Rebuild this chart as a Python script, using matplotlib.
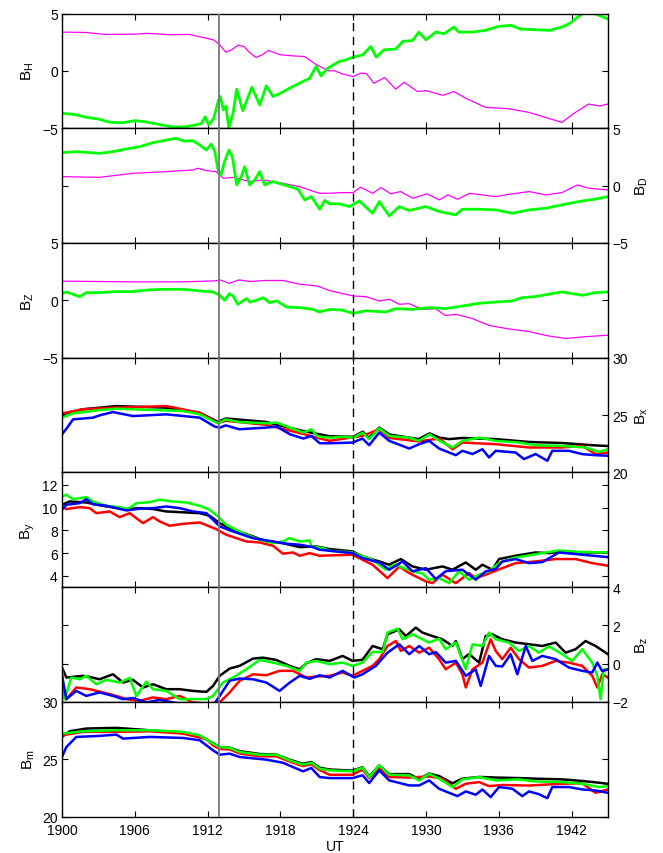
import matplotlib
matplotlib.use("Agg")
import matplotlib.pyplot as plt

plt.rcParams["font.family"] = ["Liberation Sans", "DejaVu Sans"]
plt.rcParams["mathtext.fontset"] = "custom"
plt.rcParams["mathtext.rm"] = "Liberation Sans"
plt.rcParams["mathtext.it"] = "Liberation Sans:italic"

# time in minutes after 19:00 UT
xticks = [0, 6, 12, 18, 24, 30, 36, 42]
xticklabels = ["1900", "1906", "1912", "1918", "1924", "1930", "1936", "1942"]
onset_t = 12.9
dash_t = 24.0

# ---- ground magnetometer (magenta / green) ----
bh_mag_t = [0, 2.0, 3.5, 6.0, 7.0, 9.0, 10.5, 11.5, 12.5, 13.0, 13.5, 14.0, 14.5, 15.0, 15.5, 16.0, 16.5, 17.0, 17.5, 18.0,
            19.0, 20.0, 20.5, 21.0, 22.0, 22.4, 23.1, 24.0, 24.6, 25.1, 25.7, 26.6, 27.5, 28.2, 29.3, 30.0, 31.4, 32.3,
            33.3, 34.9, 36.8, 38.5, 40.1, 41.2, 42.2, 43.4, 44.3, 45.0]
bh_mag_v = [3.38, 3.35, 3.18, 3.2, 3.27, 3.15, 3.18, 2.94, 2.7, 2.27, 1.63, 1.84, 2.24, 2.13, 1.55, 1.17, 1.4, 1.78, 1.6, 1.4,
            1.31, 1.25, 0.87, 0.52, 0.0, 0.03, -0.26, -0.5, -0.2, -0.23, -1.08, -0.58, -1.6, -0.99, -1.8, -1.72, -2.13, -1.8,
            -2.39, -3.18, -3.3, -3.62, -4.14, -4.49, -3.7, -2.89, -3.06, -2.89]
bh_grn_t = [0, 1.0, 2.0, 3.0, 4.0, 5.0, 6.0, 7.0, 8.0, 9.0, 10.0, 11.0, 11.5, 11.8, 12.1, 12.5, 12.9, 13.05, 13.3, 13.5,
            13.75, 14.1, 14.4, 14.9, 15.65, 16.3, 16.85, 17.4, 18.0, 18.75, 19.85, 20.4, 20.95, 21.35, 21.9, 22.85, 23.4,
            24.0, 24.8, 25.45, 25.9, 26.55, 27.5, 28.1, 28.9, 29.4, 30.0, 30.8, 31.5, 32.3, 32.7, 33.8, 34.9, 36.0, 37.0,
            37.8, 39.0, 40.2, 41.2, 41.8, 42.3, 42.9, 43.9, 45.0]
bh_grn_v = [-3.7, -3.79, -4.05, -4.2, -4.49, -4.52, -4.34, -4.46, -4.66, -4.87, -4.9, -4.72, -4.58, -4.0, -4.72, -4.14,
            -2.54, -2.24, -3.41, -3.06, -4.95, -3.7, -1.6, -3.47, -1.43, -2.97, -1.3, -2.24, -1.95, -1.52, -0.93, -0.65,
            0.38, -0.44, 0.23, 0.82, 0.96, 1.2, 1.4, 2.13, 1.2, 1.84, 1.9, 2.57, 2.65, 3.38, 2.71, 3.38, 3.24, 3.82, 3.38,
            3.38, 3.53, 3.88, 3.97, 3.64, 3.59, 3.53, 3.82, 4.11, 4.52, 4.99, 4.99, 4.52]

bd_mag_t = [0, 3.1, 5.85, 8.6, 10.8, 11.2, 11.9, 12.7, 13.3, 14.1, 15.5, 16.6, 18.2, 19.6, 21.2, 22.0, 23.1, 24.0, 24.6,
            25.6, 26.3, 27.1, 27.9, 28.9, 30.1, 31.1, 31.8, 32.6, 33.6, 34.6, 35.75, 37.1, 38.5, 39.9, 41.2, 42.5, 43.4, 45.0]
bd_mag_v = [0.78, 0.72, 1.07, 1.22, 1.36, 1.51, 1.3, 1.22, 0.64, 0.72, 0.35, 0.49, 0.2, -0.09, -0.67, -0.67, -0.61, -0.61,
            -0.14, -0.67, -0.17, -0.72, -0.52, -1.1, -0.72, -1.25, -0.81, -1.19, -0.67, -0.81, -0.96, -0.72, -0.52, -0.81,
            -0.61, 0.06, -0.23, -0.38]
bd_grn_t = [0, 1.2, 3.1, 4.2, 5.3, 6.4, 7.5, 8.6, 9.4, 10.1, 10.8, 11.35, 11.9, 12.3, 12.6, 12.86, 13.1, 13.4, 13.76, 14.04,
            14.4, 14.78, 15.05, 15.47, 15.88, 16.3, 16.7, 17.4, 18.1, 18.8, 19.45, 20.0, 20.55, 21.24, 21.65, 22.06, 22.85,
            23.7, 24.5, 25.6, 26.15, 26.97, 27.8, 28.6, 30.0, 31.1, 32.45, 33.0, 34.4, 35.75, 37.1, 38.5, 39.9, 41.2, 42.6,
            43.9, 45.0]
bd_grn_v = [2.87, 2.96, 2.81, 2.96, 3.19, 3.39, 3.74, 3.97, 4.12, 3.88, 3.91, 3.54, 3.1, 3.62, 2.96, 1.36, 0.93, 2.09, 3.1,
            2.52, 0.06, 0.78, 1.65, 0.06, 0.49, 1.22, 0.06, 0.35, 0.12, -0.09, -0.32, -1.25, -0.96, -2.06, -1.3, -1.59, -1.59,
            -1.83, -1.33, -2.41, -1.39, -2.64, -1.83, -2.17, -1.83, -2.26, -2.55, -2.06, -2.06, -2.12, -2.41, -2.12, -1.97,
            -1.68, -1.39, -1.19, -0.96]

bz_mag_t = [0, 5.85, 10.0, 12.7, 13.0, 13.8, 14.6, 15.5, 16.8, 18.2, 19.6, 21.0, 22.06, 24.0, 25.05, 26.15, 27.0, 27.8,
            28.6, 29.7, 30.8, 31.6, 32.5, 33.8, 35.2, 36.8, 38.5, 39.9, 41.5, 42.9, 45.0]
bz_mag_v = [1.67, 1.61, 1.61, 1.7, 1.78, 1.49, 1.78, 1.64, 1.73, 1.73, 1.4, 1.26, 0.85, 0.38, 0.32, -0.06, 0.09, -0.35,
            -0.29, -0.79, -0.73, -1.32, -1.23, -1.58, -2.19, -2.49, -2.72, -3.07, -3.33, -3.19, -3.04]
bz_grn_t = [0, 0.36, 1.46, 2.0, 3.1, 4.5, 5.85, 7.2, 8.6, 10.0, 11.35, 12.45, 13.0, 13.4, 13.8, 14.1, 14.5, 15.2, 15.5,
            16.0, 16.6, 17.1, 17.7, 18.5, 19.6, 20.7, 21.2, 22.06, 23.1, 24.0, 25.05, 26.7, 27.5, 28.9, 30.3, 31.6, 33.0,
            34.4, 35.75, 37.1, 37.9, 39.0, 40.1, 41.2, 42.9, 43.98, 45.0]
bz_grn_v = [0.58, 0.73, 0.32, 0.67, 0.67, 0.76, 0.76, 0.91, 0.96, 0.96, 0.82, 0.73, 0.44, 0.0, 0.58, 0.38, -0.35, 0.15,
            -0.15, 0.0, 0.23, -0.2, -0.05, -0.58, -0.64, -0.79, -1.02, -0.79, -0.85, -1.14, -0.91, -1.02, -0.73, -0.79,
            -0.64, -0.73, -0.5, -0.26, -0.15, -0.06, 0.23, 0.32, 0.53, 0.73, 0.44, 0.67, 0.73]

# ---- four spacecraft (black, red, green, blue) ----
bx_blk_t = [0, 1.7, 4.5, 8.6, 11.35, 12.86, 13.5, 16.8, 19.9, 22.06, 24.0, 24.8, 25.3, 26.15, 27.0, 29.4, 30.3, 31.1, 31.9,
            33.0, 35.75, 38.5, 41.2, 43.98, 45.0]
bx_blk_v = [25.06, 25.5, 25.78, 25.64, 25.2, 24.4, 24.7, 24.4, 23.6, 23.15, 23.1, 23.55, 23.0, 23.9, 23.3, 22.9, 23.4,
            23.03, 22.9, 23.0, 22.9, 22.65, 22.56, 22.35, 22.3]
bx_red_t = [0, 1.7, 4.5, 8.6, 11.35, 12.86, 13.5, 16.8, 19.9, 21.1, 22.06, 24.8, 26.15, 27.0, 29.4, 31.1, 32.2, 33.0, 35.75,
            38.5, 41.2, 42.9, 43.98, 45.0]
bx_red_v = [25.14, 25.5, 25.64, 25.78, 25.2, 24.3, 24.5, 24.15, 23.35, 23.0, 22.75, 23.2, 23.75, 23.0, 22.7, 22.95, 22.02,
            22.6, 22.46, 22.17, 22.17, 22.31, 21.59, 21.73]
bx_grn_t = [0, 0.9, 3.1, 4.5, 7.2, 10.0, 11.35, 12.45, 12.86, 13.5, 14.6, 16.8, 17.7, 18.8, 19.9, 20.55, 21.1, 22.06, 23.1,
            24.0, 24.8, 25.3, 26.15, 26.97, 28.6, 29.4, 30.3, 31.1, 32.2, 33.0, 34.4, 35.75, 37.7, 39.0, 41.2, 43.15, 44.25,
            45.0]
bx_grn_v = [24.77, 25.14, 25.43, 25.55, 25.45, 25.35, 25.06, 24.48, 24.28, 24.62, 24.39, 24.28, 24.34, 23.9, 23.47, 23.76,
            23.12, 23.03, 23.1, 23.03, 23.47, 22.89, 23.84, 23.18, 23.03, 22.75, 23.32, 22.75, 22.17, 22.75, 23.03, 22.75,
            22.6, 22.37, 22.31, 22.17, 21.79, 22.02]
bx_blu_t = [0, 0.36, 0.91, 2.55, 3.1, 4.2, 5.85, 8.6, 11.35, 12.6, 13.0, 13.5, 14.6, 16.8, 17.7, 18.8, 19.9, 20.55, 21.24,
            22.06, 23.95, 24.77, 25.32, 26.15, 26.97, 28.62, 29.44, 30.26, 31.08, 32.46, 33.0, 33.83, 34.65, 35.2, 35.75,
            37.39, 38.08, 39.04, 40.0, 40.41, 41.78, 42.88, 43.98, 45.0]
bx_blu_v = [23.32, 23.8, 24.62, 24.77, 24.97, 25.26, 24.91, 25.06, 24.77, 23.99, 23.9, 24.1, 23.76, 23.9, 23.99, 23.32,
            22.95, 23.18, 22.54, 22.54, 22.6, 22.95, 22.37, 23.47, 22.75, 22.08, 22.46, 22.75, 22.08, 21.5, 21.88, 21.6,
            22.02, 21.3, 21.88, 21.73, 21.16, 21.6, 21.01, 21.88, 21.88, 21.59, 21.5, 21.45]

by_blk_t = [0, 0.63, 2.0, 3.65, 5.3, 6.4, 7.5, 8.6, 10.25, 11.35, 12.17, 13.0, 14.09, 15.74, 16.84, 18.21, 19.59, 20.96,
            22.06, 23.95, 24.77, 26.15, 26.97, 27.93, 28.89, 29.99, 31.36, 32.18, 33.28, 34.1, 34.65, 35.47, 36.02, 37.39,
            39.04, 40.14, 41.23, 42.88, 45.0]
by_blk_v = [10.25, 10.54, 10.45, 10.1, 9.87, 9.95, 9.87, 9.66, 9.57, 9.51, 9.28, 8.63, 8.05, 7.46, 7.02, 6.87, 6.52, 6.58,
            6.35, 6.14, 5.7, 5.26, 4.97, 5.47, 4.82, 4.53, 4.82, 4.53, 5.17, 4.53, 4.97, 4.53, 5.47, 5.76, 6.05, 5.99, 6.14,
            6.05, 6.05]
by_red_t = [0, 0.36, 1.46, 2.28, 2.83, 3.93, 4.75, 5.58, 6.68, 7.5, 8.05, 8.87, 9.97, 11.35, 12.17, 12.72, 13.54, 15.19,
            16.29, 17.39, 18.21, 19.04, 19.59, 20.41, 21.24, 22.06, 23.95, 24.77, 25.6, 26.83, 27.8, 28.62, 29.99, 30.53,
            31.36, 32.46, 33.55, 34.1, 34.92, 36.29, 37.39, 39.04, 40.69, 42.33, 43.7, 45.0]
by_red_v = [10.1, 9.87, 10.04, 9.95, 9.51, 9.66, 9.16, 9.51, 8.63, 9.16, 8.78, 8.4, 8.57, 8.69, 8.34, 8.1, 7.61, 7.02, 6.93,
            6.64, 5.94, 6.05, 5.76, 5.99, 5.76, 5.79, 5.85, 5.41, 4.97, 3.79, 4.82, 4.23, 3.5, 3.35, 4.09, 3.35, 4.23, 3.79,
            4.09, 4.67, 5.11, 5.26, 5.47, 5.47, 5.11, 4.88]
by_grn_t = [0, 0.36, 0.91, 2.0, 2.55, 3.65, 4.75, 5.44, 6.13, 7.23, 8.05, 9.15, 10.25, 11.35, 12.17, 12.86, 13.54, 14.09,
            15.19, 16.29, 17.39, 18.21, 18.76, 19.59, 20.41, 20.55, 21.51, 22.06, 23.95, 24.77, 25.6, 26.69, 27.4, 28.89,
            29.71, 30.26, 31.08, 31.91, 32.73, 33.55, 34.38, 35.2, 36.02, 37.12, 38.77, 40.96, 42.6, 45.0]
by_grn_v = [10.98, 11.13, 10.74, 10.92, 10.54, 10.16, 10.04, 9.87, 10.39, 10.48, 10.69, 10.54, 10.45, 10.16, 9.81, 9.22,
            8.49, 8.19, 7.61, 7.17, 6.87, 7.02, 7.31, 7.02, 7.11, 6.58, 6.43, 6.2, 6.05, 5.7, 5.41, 4.53, 5.0, 4.38, 4.2,
            3.65, 3.79, 3.35, 4.4, 3.65, 4.09, 4.4, 5.11, 5.55, 5.85, 6.23, 6.1, 6.05]
by_blu_t = [0, 0.36, 1.46, 2.0, 2.55, 3.65, 5.3, 6.4, 7.5, 8.6, 9.7, 10.8, 11.9, 13.0, 14.09, 15.74, 17.39, 18.49, 19.59,
            20.69, 21.24, 22.06, 23.95, 24.77, 26.15, 26.97, 28.07, 28.89, 29.99, 30.81, 31.63, 33.0, 34.1, 34.92, 35.75,
            36.29, 37.39, 38.49, 39.59, 40.96, 42.88, 45.0]
by_blu_v = [9.81, 10.25, 10.39, 10.74, 10.3, 10.16, 9.75, 9.9, 9.95, 10.1, 9.95, 9.66, 9.51, 8.34, 7.9, 7.31, 7.02, 6.82,
            6.73, 6.52, 6.29, 6.2, 5.99, 5.55, 5.17, 4.53, 5.26, 4.38, 4.67, 3.71, 4.4, 4.53, 3.65, 4.38, 4.6, 5.26, 5.47,
            5.11, 5.2, 6.05, 5.85, 5.64]

bzz_blk_t = [0, 0.36, 1.73, 2.28, 3.1, 4.2, 5.03, 5.85, 6.68, 7.5, 8.6, 9.7, 10.8, 11.9, 12.45, 13.0, 13.82, 14.64, 15.74,
             16.57, 17.66, 18.76, 19.59, 20.14, 20.96, 22.06, 23.13, 23.95, 24.77, 25.6, 26.43, 26.83, 27.8, 28.34, 29.16,
             29.71, 30.53, 31.36, 32.18, 32.46, 33.0, 33.55, 34.38, 34.92, 35.47, 36.29, 37.39, 38.49, 39.59, 40.69, 41.51,
             42.33, 43.15, 43.98, 45.0]
bzz_blk_v = [-0.21, -0.73, -0.64, -0.7, -0.82, -0.56, -0.99, -0.85, -1.25, -1.08, -1.34, -1.34, -1.43, -1.48, -1.17, -0.64,
             -0.26, -0.12, 0.26, 0.31, 0.19, -0.12, -0.3, 0.02, 0.23, 0.14, 0.4, 0.14, 0.2, 0.92, 0.75, 1.53, 1.79, 1.44,
             1.88, 1.62, 1.44, 1.27, 0.92, 1.18, 0.23, 0.5, 0.05, 1.44, 1.53, 1.27, 1.1, 1.01, 0.92, 1.1, 0.57, 0.75, 1.18,
             0.92, 0.49]
bzz_red_t = [0, 0.36, 1.18, 2.28, 3.38, 4.48, 5.3, 6.4, 7.5, 8.6, 9.7, 10.8, 11.9, 13.0, 13.82, 14.64, 15.74, 16.84, 17.93,
             19.04, 20.14, 20.96, 22.06, 23.13, 23.95, 24.77, 25.6, 26.15, 26.83, 27.52, 27.93, 28.62, 29.44, 30.26, 31.08,
             31.63, 32.46, 33.0, 33.28, 33.83, 34.65, 35.33, 35.75, 36.29, 36.98, 37.67, 38.49, 39.59, 40.69, 41.78, 42.88,
             43.7, 44.12, 44.53, 45.0]
bzz_red_v = [-1.17, -1.86, -1.25, -1.34, -1.51, -1.69, -1.86, -1.95, -1.77, -1.86, -1.69, -2.03, -2.1, -2.03, -1.51, -0.9,
             -0.56, -0.61, -0.38, -0.38, -0.73, -0.68, -0.64, -0.47, -0.64, -0.38, -0.12, 0.23, 0.92, 1.18, 0.66, 0.92, 0.57,
             0.83, 0.23, -0.3, 0.05, -0.56, -1.25, -0.3, 0.05, 1.27, 0.66, 0.23, 0.83, 0.23, -0.21, -0.12, 0.14, 0.05, -0.12,
             -0.64, -1.25, -0.56, -0.73]
bzz_grn_t = [0, 0.22, 0.77, 1.46, 2.0, 2.83, 3.65, 4.75, 5.58, 6.13, 6.95, 7.5, 8.6, 9.7, 10.8, 11.9, 12.45, 13.27, 14.09,
             15.19, 16.29, 17.39, 18.49, 19.59, 20.14, 20.96, 22.06, 23.13, 23.95, 24.77, 25.6, 26.43, 26.83, 27.66, 28.07,
             28.89, 29.71, 30.26, 31.08, 31.63, 32.46, 32.87, 33.28, 33.83, 34.65, 35.2, 35.75, 36.84, 37.67, 38.49, 39.31,
             40.14, 41.23, 42.06, 42.88, 43.7, 44.12, 44.39, 44.66, 45.0]
bzz_grn_v = [-0.3, -1.86, -0.73, -0.82, -0.64, -1.08, -0.85, -0.99, -0.75, -1.69, -0.95, -1.34, -1.43, -1.86, -1.86, -1.86,
             -1.69, -0.99, -0.73, -0.3, 0.19, 0.05, -0.12, -0.38, 0.05, 0.14, -0.03, 0.05, -0.12, 0.05, 0.61, 0.6, 1.62, 1.83,
             1.27, 1.53, 1.27, 1.1, 1.3, 0.75, 1.1, 0.4, -0.3, 1.01, 0.92, 1.62, 1.27, 1.1, 0.66, 0.92, 0.57, 0.9, 0.49, 0.14,
             0.75, 0.05, -0.64, -1.86, -0.3, -0.3]
bzz_blu_t = [0, 0.36, 1.18, 2.0, 3.1, 4.2, 5.03, 5.85, 6.95, 8.05, 9.15, 10.25, 11.35, 12.45, 13.0, 13.82, 14.64, 15.74,
             16.84, 17.93, 18.76, 19.59, 20.41, 21.24, 22.06, 23.13, 24.09, 24.77, 25.87, 26.83, 27.8, 28.62, 29.44, 30.26,
             30.81, 31.63, 32.46, 33.28, 34.1, 34.51, 35.2, 35.75, 36.29, 36.98, 37.53, 38.22, 38.77, 39.59, 40.69, 41.78,
             42.88, 43.7, 44.12, 44.53, 45.0]
bzz_blu_v = [-0.64, -1.86, -1.43, -1.69, -1.51, -1.69, -1.86, -1.8, -2.03, -1.9, -2.03, -2.15, -2.3, -2.2, -1.69, -0.9,
             -0.78, -0.82, -0.99, -1.43, -1.0, -0.64, -0.8, -0.61, -0.73, -0.38, -0.73, -0.56, -0.12, 0.57, 1.01, 0.49, 0.92,
             0.49, 0.6, 0.05, 0.14, -0.64, -0.3, -1.17, 0.4, -0.12, -0.15, 0.49, -0.56, 0.92, 0.14, 0.4, 0.23, -0.21, -0.38,
             -0.47, 0.05, -0.4, -0.3]

bm_blk_t = [0, 0.63, 2.0, 4.48, 7.23, 9.97, 11.35, 12.45, 12.99, 13.82, 14.64, 16.29, 17.66, 18.76, 19.86, 20.55, 21.24,
            22.06, 23.95, 24.77, 25.32, 26.15, 26.97, 28.62, 29.44, 30.26, 31.08, 32.18, 33.0, 34.38, 35.75, 37.67, 39.04,
            41.23, 42.88, 44.25, 45.0]
bm_blk_v = [26.94, 27.43, 27.67, 27.73, 27.52, 27.3, 27.05, 26.4, 26.05, 26.0, 25.7, 25.45, 25.4, 24.95, 24.6, 24.75,
            24.25, 24.1, 24.0, 24.3, 23.5, 24.45, 23.7, 23.7, 23.25, 23.75, 23.53, 22.9, 23.3, 23.45, 23.4, 23.35, 23.3,
            23.24, 23.1, 22.95, 22.85]
bm_red_t = [0, 1.73, 4.48, 7.23, 9.97, 11.9, 12.45, 12.99, 13.82, 14.64, 16.29, 17.66, 18.76, 19.86, 20.55, 21.24, 22.06,
            23.95, 24.77, 25.32, 26.15, 26.97, 28.62, 30.26, 31.36, 32.46, 33.28, 34.38, 35.2, 36.29, 38.49, 41.23, 42.88,
            43.98, 45.0]
bm_red_v = [27.08, 27.38, 27.38, 27.43, 27.23, 26.75, 26.2, 25.9, 25.85, 25.5, 25.25, 25.25, 24.8, 24.4, 24.55, 24.05,
            23.64, 23.64, 24.1, 23.35, 24.2, 23.45, 23.4, 23.5, 23.29, 22.42, 22.86, 23.0, 22.65, 22.75, 22.7, 22.86, 22.9,
            22.07, 22.36]
bm_grn_t = [0, 1.73, 4.48, 7.23, 9.97, 11.35, 12.45, 12.99, 13.82, 14.64, 16.29, 17.66, 18.76, 19.86, 20.55, 21.24, 22.06,
            23.95, 24.77, 25.32, 26.15, 26.97, 28.62, 29.44, 30.26, 31.08, 32.18, 33.0, 34.38, 35.75, 37.67, 39.04, 41.23,
            42.88, 44.25, 45.0]
bm_grn_v = [27.23, 27.43, 27.52, 27.52, 27.38, 27.08, 26.36, 26.06, 25.98, 25.63, 25.39, 25.39, 24.9, 24.52, 24.69, 24.17,
            24.02, 23.94, 24.26, 23.44, 24.46, 23.64, 23.59, 23.15, 23.73, 23.3, 22.57, 23.24, 23.44, 23.15, 23.24, 23.06,
            23.0, 22.86, 22.57, 22.65]
bm_blu_t = [0, 0.36, 1.18, 3.1, 4.48, 5.03, 7.23, 9.97, 11.35, 12.45, 12.99, 13.82, 14.64, 16.84, 18.21, 19.86, 20.55, 21.24,
            22.06, 23.95, 24.77, 25.32, 26.15, 26.97, 28.62, 29.44, 30.26, 31.08, 32.59, 33.28, 34.1, 34.65, 35.33, 36.02,
            37.12, 37.94, 38.49, 39.31, 40.0, 40.41, 41.78, 42.88, 43.98, 45.0]
bm_blu_v = [25.19, 26.06, 26.94, 27.03, 27.14, 26.79, 26.94, 26.85, 26.65, 25.77, 25.39, 25.48, 25.19, 24.96, 24.69, 23.94,
            24.23, 23.44, 23.35, 23.35, 23.6, 22.92, 24.02, 23.15, 22.71, 22.71, 23.15, 22.42, 21.78, 22.19, 21.9, 22.36,
            21.69, 22.57, 22.42, 21.78, 22.19, 21.95, 21.6, 22.57, 22.57, 22.36, 22.27, 22.07]

GRN = "#00ff00"
MAG = "#ff00ff"

# (label, ylim, yticks, tick side, series)
panels = [
    (r"$\mathrm{B_H}$", (-5, 5), [-5, 0, 5], "left",
     [(bh_mag_t, bh_mag_v, MAG, 0.9), (bh_grn_t, bh_grn_v, GRN, 2.0)]),
    (r"$\mathrm{B_D}$", (-5, 5), [-5, 0, 5], "right",
     [(bd_mag_t, bd_mag_v, MAG, 0.9), (bd_grn_t, bd_grn_v, GRN, 2.0)]),
    (r"$\mathrm{B_Z}$", (-5, 5), [-5, 0, 5], "left",
     [(bz_mag_t, bz_mag_v, MAG, 0.9), (bz_grn_t, bz_grn_v, GRN, 2.0)]),
    (r"$\mathrm{B_x}$", (20, 30), [20, 25, 30], "right",
     [(bx_blk_t, bx_blk_v, "k", 1.8), (bx_red_t, bx_red_v, "r", 1.8),
      (bx_grn_t, bx_grn_v, GRN, 1.8), (bx_blu_t, bx_blu_v, "b", 1.8)]),
    (r"$\mathrm{B_y}$", (3, 13.1), [4, 6, 8, 10, 12], "left",
     [(by_blk_t, by_blk_v, "k", 1.8), (by_red_t, by_red_v, "r", 1.8),
      (by_grn_t, by_grn_v, GRN, 1.8), (by_blu_t, by_blu_v, "b", 1.8)]),
    (r"$\mathrm{B_z}$", (-2, 4), [-2, 0, 2, 4], "right",
     [(bzz_blk_t, bzz_blk_v, "k", 1.8), (bzz_red_t, bzz_red_v, "r", 1.8),
      (bzz_grn_t, bzz_grn_v, GRN, 1.8), (bzz_blu_t, bzz_blu_v, "b", 1.8)]),
    (r"$\mathrm{B_m}$", (20, 30), [20, 25, 30], "left",
     [(bm_blk_t, bm_blk_v, "k", 1.8), (bm_red_t, bm_red_v, "r", 1.8),
      (bm_grn_t, bm_grn_v, GRN, 1.8), (bm_blu_t, bm_blu_v, "b", 1.8)]),
]

fig = plt.figure(figsize=(6.63, 8.54), dpi=100)
left, width = 0.0935, 0.8235
top, bottom = 0.983, 0.0427
h = (top - bottom) / len(panels)

for i, (label, ylim, yticks, side, series) in enumerate(panels):
    ax = fig.add_axes([left, top - (i + 1) * h, width, h])
    for t, v, c, lw in series:
        ax.plot(t, v, color=c, lw=lw, zorder=2)
    ax.axvline(onset_t, color="#7a7a7a", lw=1.3, zorder=3)
    ax.axvline(dash_t, color="k", lw=1.0, ls=(0, (6, 4)), zorder=3)
    ax.set_xlim(0, 45)
    ax.set_ylim(*ylim)
    ax.set_xticks(xticks)
    ax.set_yticks(yticks)
    ax.tick_params(direction="in", length=4, width=0.8, top=True, right=True, left=True,
                   labelsize=10, pad=3)
    if side == "right":
        ax.tick_params(axis="y", labelleft=False, labelright=True)
        ax.yaxis.set_label_position("right")
    ax.set_ylabel(label, fontsize=11, labelpad=4)
    for s in ax.spines.values():
        s.set_linewidth(1.0)
    if i == len(panels) - 1:
        ax.set_xticklabels(xticklabels)
        ax.tick_params(axis="x", pad=5)
        ax.set_xlabel("UT", fontsize=10, labelpad=1)
    else:
        ax.set_xticklabels([])

fig.savefig("out.png", dpi=100)
